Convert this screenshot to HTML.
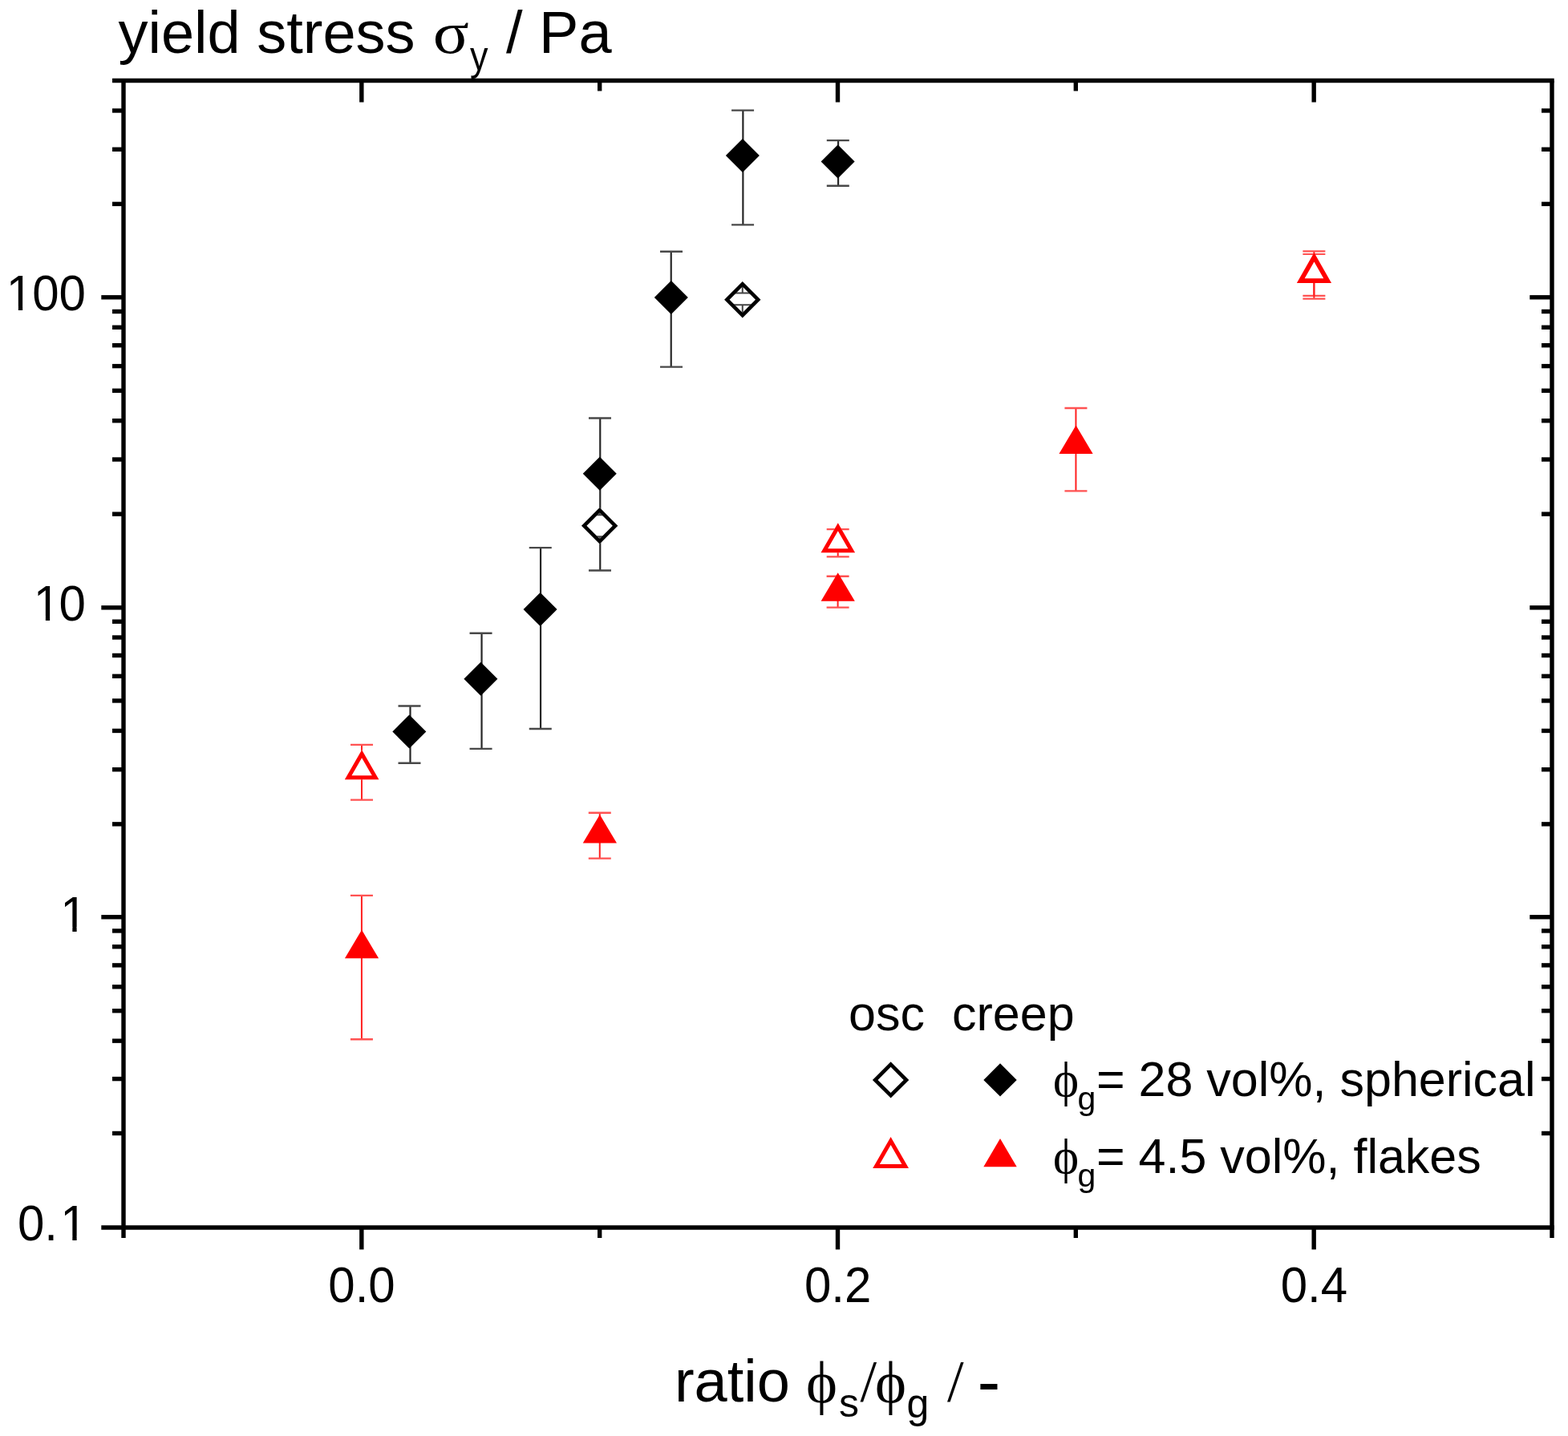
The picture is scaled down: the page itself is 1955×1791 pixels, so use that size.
<!DOCTYPE html>
<html lang="en"><head><meta charset="utf-8"><title>yield stress vs ratio</title>
<style>
html,body{margin:0;padding:0;background:#fff;}
body{width:1955px;height:1791px;overflow:hidden;}
svg{display:block;}
text{fill:#000;}
</style></head>
<body>
<svg width="1955" height="1791" viewBox="0 0 1955 1791">
<rect width="1955" height="1791" fill="#fff"/>
<path d="M511.50 880.50V951.70" fill="none" stroke="#262626" stroke-width="2.2"/>
<path d="M496.50 880.50H524.50M496.50 951.70H524.50" fill="none" stroke="#484848" stroke-width="2.4"/>
<path d="M600.55 789.80V933.90" fill="none" stroke="#262626" stroke-width="2.2"/>
<path d="M585.55 789.80H613.55M585.55 933.90H613.55" fill="none" stroke="#484848" stroke-width="2.4"/>
<path d="M674.06 683.10V909.00" fill="none" stroke="#262626" stroke-width="2.2"/>
<path d="M659.76 683.10H687.76M659.76 909.00H687.76" fill="none" stroke="#484848" stroke-width="2.4"/>
<path d="M748.27 521.50V711.50" fill="none" stroke="#262626" stroke-width="2.2"/>
<path d="M733.97 521.50H761.97M733.97 711.50H761.97" fill="none" stroke="#484848" stroke-width="2.4"/>
<path d="M836.72 313.80V457.60" fill="none" stroke="#262626" stroke-width="2.2"/>
<path d="M823.02 313.80H851.02M823.02 457.60H851.02" fill="none" stroke="#484848" stroke-width="2.4"/>
<path d="M926.37 137.60V280.40" fill="none" stroke="#262626" stroke-width="2.2"/>
<path d="M912.07 137.60H940.07M912.07 280.40H940.07" fill="none" stroke="#484848" stroke-width="2.4"/>
<path d="M1045.10 175.10V231.70" fill="none" stroke="#262626" stroke-width="2.2"/>
<path d="M1030.80 175.10H1058.80M1030.80 231.70H1058.80" fill="none" stroke="#484848" stroke-width="2.4"/>
<path d="M510.30 891.50L531.30 912.50L510.30 933.50L489.30 912.50Z" fill="#000"/>
<path d="M599.35 825.70L620.35 846.70L599.35 867.70L578.35 846.70Z" fill="#000"/>
<path d="M673.56 739.10L694.56 760.10L673.56 781.10L652.56 760.10Z" fill="#000"/>
<path d="M747.77 569.70L768.77 590.70L747.77 611.70L726.77 590.70Z" fill="#000"/>
<path d="M836.82 350.10L857.82 371.10L836.82 392.10L815.82 371.10Z" fill="#000"/>
<path d="M925.87 173.10L946.87 194.10L925.87 215.10L904.87 194.10Z" fill="#000"/>
<path d="M1044.60 180.40L1065.60 201.40L1044.60 222.40L1023.60 201.40Z" fill="#000"/>
<path d="M747.67 633.05L770.37 655.75L747.67 678.45L724.97 655.75Z" fill="#fff"/>
<clipPath id="c10"><path d="M747.67 639.15L764.27 655.75L747.67 672.35L731.07 655.75Z"/></clipPath>
<g clip-path="url(#c10)"><path d="M747.67 639.15V642.20M747.67 669.30V672.35M733.67 642.20H761.67M733.67 669.30H761.67" fill="none" stroke="#444" stroke-width="2.0"/></g>
<path fill-rule="evenodd" d="M747.67 633.05L770.37 655.75L747.67 678.45L724.97 655.75Z M747.67 639.55L763.87 655.75L747.67 671.95L731.47 655.75Z" fill="#000"/>
<path d="M925.77 351.00L948.47 373.70L925.77 396.40L903.07 373.70Z" fill="#fff"/>
<clipPath id="c16"><path d="M925.77 357.10L942.37 373.70L925.77 390.30L909.17 373.70Z"/></clipPath>
<g clip-path="url(#c16)"><path d="M925.77 357.10V365.40M925.77 380.20V390.30M911.77 365.40H939.77M911.77 380.20H939.77" fill="none" stroke="#444" stroke-width="2.0"/></g>
<path fill-rule="evenodd" d="M925.77 351.00L948.47 373.70L925.77 396.40L903.07 373.70Z M925.77 357.50L941.97 373.70L925.77 389.90L909.57 373.70Z" fill="#000"/>
<path d="M450.93 1116.85V1296.20" fill="none" stroke="#ff2020" stroke-width="2.0"/>
<path d="M436.93 1116.85H464.93M436.93 1296.20H464.93" fill="none" stroke="#ff5252" stroke-width="2.4"/>
<path d="M747.77 1013.70V1070.60" fill="none" stroke="#ff2020" stroke-width="2.0"/>
<path d="M733.77 1013.70H761.77M733.77 1070.60H761.77" fill="none" stroke="#ff5252" stroke-width="2.4"/>
<path d="M1044.60 718.80V757.60" fill="none" stroke="#ff2020" stroke-width="2.0"/>
<path d="M1030.60 718.80H1058.60M1030.60 757.60H1058.60" fill="none" stroke="#ff5252" stroke-width="2.4"/>
<path d="M1341.43 509.00V612.40" fill="none" stroke="#ff2020" stroke-width="2.0"/>
<path d="M1327.43 509.00H1355.43M1327.43 612.40H1355.43" fill="none" stroke="#ff5252" stroke-width="2.4"/>
<path d="M451.03 1159.70L472.13 1195.20L429.93 1195.20Z" fill="#ff0000"/>
<path d="M747.87 1016.00L768.97 1051.50L726.77 1051.50Z" fill="#ff0000"/>
<path d="M1044.70 714.20L1065.80 749.70L1023.60 749.70Z" fill="#ff0000"/>
<path d="M1341.53 530.50L1362.63 566.00L1320.43 566.00Z" fill="#ff0000"/>
<path d="M451.03 928.90V997.60" fill="none" stroke="#ff2020" stroke-width="2.0"/>
<path d="M437.03 928.90H465.03M437.03 997.60H465.03" fill="none" stroke="#ff5252" stroke-width="2.2"/>
<path d="M1044.70 660.20V694.30" fill="none" stroke="#ff2020" stroke-width="2.0"/>
<path d="M1030.70 660.20H1058.70M1030.70 694.30H1058.70" fill="none" stroke="#ff5252" stroke-width="2.2"/>
<path d="M1638.37 313.30V368.80" fill="none" stroke="#ff2020" stroke-width="2.0"/>
<path d="M1624.37 313.30H1652.37M1624.37 368.80H1652.37" fill="none" stroke="#ff5252" stroke-width="2.2"/>
<path d="M1638.37 317.00V372.70" fill="none" stroke="#ff2020" stroke-width="2.0"/>
<path d="M1624.37 317.00H1652.37M1624.37 372.70H1652.37" fill="none" stroke="#ff5252" stroke-width="2.2"/>
<path d="M451.13 935.20L472.43 972.20L429.83 972.20Z" fill="#fff"/>
<path fill-rule="evenodd" d="M451.13 935.20L472.43 972.20L429.83 972.20Z M451.13 945.22L463.79 967.20L438.48 967.20Z" fill="#ff0000"/>
<path d="M1044.80 652.20L1066.10 689.20L1023.50 689.20Z" fill="#fff"/>
<path fill-rule="evenodd" d="M1044.80 652.20L1066.10 689.20L1023.50 689.20Z M1044.80 662.22L1057.45 684.20L1032.15 684.20Z" fill="#ff0000"/>
<path d="M1638.47 315.40L1659.77 352.40L1617.17 352.40Z" fill="#fff"/>
<path fill-rule="evenodd" d="M1638.47 314.90L1660.07 353.00L1616.87 353.00Z M1638.47 326.46L1650.28 347.30L1626.65 347.30Z" fill="#ff0000"/>
<line x1="140.00" y1="100.50" x2="1937.70" y2="100.50" stroke="#000" stroke-width="5.4"/>
<line x1="126.30" y1="1531.00" x2="1937.70" y2="1531.00" stroke="#000" stroke-width="5.4"/>
<line x1="154.00" y1="100.50" x2="154.00" y2="1544.00" stroke="#000" stroke-width="5.4"/>
<line x1="1935.00" y1="100.50" x2="1935.00" y2="1544.00" stroke="#000" stroke-width="5.4"/>
<line x1="140.00" y1="1413.48" x2="154.00" y2="1413.48" stroke="#000" stroke-width="5.4"/>
<line x1="1922.00" y1="1413.48" x2="1935.00" y2="1413.48" stroke="#000" stroke-width="5.4"/>
<line x1="140.00" y1="1345.58" x2="154.00" y2="1345.58" stroke="#000" stroke-width="5.4"/>
<line x1="1922.00" y1="1345.58" x2="1935.00" y2="1345.58" stroke="#000" stroke-width="5.4"/>
<line x1="140.00" y1="1298.17" x2="154.00" y2="1298.17" stroke="#000" stroke-width="5.4"/>
<line x1="1922.00" y1="1298.17" x2="1935.00" y2="1298.17" stroke="#000" stroke-width="5.4"/>
<line x1="140.00" y1="1260.69" x2="154.00" y2="1260.69" stroke="#000" stroke-width="5.4"/>
<line x1="1922.00" y1="1260.69" x2="1935.00" y2="1260.69" stroke="#000" stroke-width="5.4"/>
<line x1="140.00" y1="1230.77" x2="154.00" y2="1230.77" stroke="#000" stroke-width="5.4"/>
<line x1="1922.00" y1="1230.77" x2="1935.00" y2="1230.77" stroke="#000" stroke-width="5.4"/>
<line x1="140.00" y1="1203.88" x2="154.00" y2="1203.88" stroke="#000" stroke-width="5.4"/>
<line x1="1922.00" y1="1203.88" x2="1935.00" y2="1203.88" stroke="#000" stroke-width="5.4"/>
<line x1="140.00" y1="1180.75" x2="154.00" y2="1180.75" stroke="#000" stroke-width="5.4"/>
<line x1="1922.00" y1="1180.75" x2="1935.00" y2="1180.75" stroke="#000" stroke-width="5.4"/>
<line x1="140.00" y1="1160.97" x2="154.00" y2="1160.97" stroke="#000" stroke-width="5.4"/>
<line x1="1922.00" y1="1160.97" x2="1935.00" y2="1160.97" stroke="#000" stroke-width="5.4"/>
<line x1="126.30" y1="1143.77" x2="154.00" y2="1143.77" stroke="#000" stroke-width="5.4"/>
<line x1="1907.30" y1="1143.77" x2="1935.00" y2="1143.77" stroke="#000" stroke-width="5.4"/>
<line x1="140.00" y1="1027.85" x2="154.00" y2="1027.85" stroke="#000" stroke-width="5.4"/>
<line x1="1922.00" y1="1027.85" x2="1935.00" y2="1027.85" stroke="#000" stroke-width="5.4"/>
<line x1="140.00" y1="959.75" x2="154.00" y2="959.75" stroke="#000" stroke-width="5.4"/>
<line x1="1922.00" y1="959.75" x2="1935.00" y2="959.75" stroke="#000" stroke-width="5.4"/>
<line x1="140.00" y1="911.44" x2="154.00" y2="911.44" stroke="#000" stroke-width="5.4"/>
<line x1="1922.00" y1="911.44" x2="1935.00" y2="911.44" stroke="#000" stroke-width="5.4"/>
<line x1="140.00" y1="873.96" x2="154.00" y2="873.96" stroke="#000" stroke-width="5.4"/>
<line x1="1922.00" y1="873.96" x2="1935.00" y2="873.96" stroke="#000" stroke-width="5.4"/>
<line x1="140.00" y1="843.34" x2="154.00" y2="843.34" stroke="#000" stroke-width="5.4"/>
<line x1="1922.00" y1="843.34" x2="1935.00" y2="843.34" stroke="#000" stroke-width="5.4"/>
<line x1="140.00" y1="817.45" x2="154.00" y2="817.45" stroke="#000" stroke-width="5.4"/>
<line x1="1922.00" y1="817.45" x2="1935.00" y2="817.45" stroke="#000" stroke-width="5.4"/>
<line x1="140.00" y1="795.02" x2="154.00" y2="795.02" stroke="#000" stroke-width="5.4"/>
<line x1="1922.00" y1="795.02" x2="1935.00" y2="795.02" stroke="#000" stroke-width="5.4"/>
<line x1="140.00" y1="775.24" x2="154.00" y2="775.24" stroke="#000" stroke-width="5.4"/>
<line x1="1922.00" y1="775.24" x2="1935.00" y2="775.24" stroke="#000" stroke-width="5.4"/>
<line x1="126.30" y1="757.84" x2="154.00" y2="757.84" stroke="#000" stroke-width="5.4"/>
<line x1="1907.30" y1="757.84" x2="1935.00" y2="757.84" stroke="#000" stroke-width="5.4"/>
<line x1="140.00" y1="641.12" x2="154.00" y2="641.12" stroke="#000" stroke-width="5.4"/>
<line x1="1922.00" y1="641.12" x2="1935.00" y2="641.12" stroke="#000" stroke-width="5.4"/>
<line x1="140.00" y1="573.02" x2="154.00" y2="573.02" stroke="#000" stroke-width="5.4"/>
<line x1="1922.00" y1="573.02" x2="1935.00" y2="573.02" stroke="#000" stroke-width="5.4"/>
<line x1="140.00" y1="524.71" x2="154.00" y2="524.71" stroke="#000" stroke-width="5.4"/>
<line x1="1922.00" y1="524.71" x2="1935.00" y2="524.71" stroke="#000" stroke-width="5.4"/>
<line x1="140.00" y1="487.23" x2="154.00" y2="487.23" stroke="#000" stroke-width="5.4"/>
<line x1="1922.00" y1="487.23" x2="1935.00" y2="487.23" stroke="#000" stroke-width="5.4"/>
<line x1="140.00" y1="456.61" x2="154.00" y2="456.61" stroke="#000" stroke-width="5.4"/>
<line x1="1922.00" y1="456.61" x2="1935.00" y2="456.61" stroke="#000" stroke-width="5.4"/>
<line x1="140.00" y1="430.72" x2="154.00" y2="430.72" stroke="#000" stroke-width="5.4"/>
<line x1="1922.00" y1="430.72" x2="1935.00" y2="430.72" stroke="#000" stroke-width="5.4"/>
<line x1="140.00" y1="408.29" x2="154.00" y2="408.29" stroke="#000" stroke-width="5.4"/>
<line x1="1922.00" y1="408.29" x2="1935.00" y2="408.29" stroke="#000" stroke-width="5.4"/>
<line x1="140.00" y1="388.51" x2="154.00" y2="388.51" stroke="#000" stroke-width="5.4"/>
<line x1="1922.00" y1="388.51" x2="1935.00" y2="388.51" stroke="#000" stroke-width="5.4"/>
<line x1="126.30" y1="370.81" x2="154.00" y2="370.81" stroke="#000" stroke-width="5.4"/>
<line x1="1907.30" y1="370.81" x2="1935.00" y2="370.81" stroke="#000" stroke-width="5.4"/>
<line x1="140.00" y1="254.40" x2="154.00" y2="254.40" stroke="#000" stroke-width="5.4"/>
<line x1="1922.00" y1="254.40" x2="1935.00" y2="254.40" stroke="#000" stroke-width="5.4"/>
<line x1="140.00" y1="186.30" x2="154.00" y2="186.30" stroke="#000" stroke-width="5.4"/>
<line x1="1922.00" y1="186.30" x2="1935.00" y2="186.30" stroke="#000" stroke-width="5.4"/>
<line x1="140.00" y1="137.98" x2="154.00" y2="137.98" stroke="#000" stroke-width="5.4"/>
<line x1="1922.00" y1="137.98" x2="1935.00" y2="137.98" stroke="#000" stroke-width="5.4"/>
<line x1="450.83" y1="100.50" x2="450.83" y2="127.50" stroke="#000" stroke-width="5.4"/>
<line x1="450.83" y1="1531.00" x2="450.83" y2="1558.40" stroke="#000" stroke-width="5.4"/>
<line x1="747.67" y1="100.50" x2="747.67" y2="113.50" stroke="#000" stroke-width="5.4"/>
<line x1="747.67" y1="1531.00" x2="747.67" y2="1544.00" stroke="#000" stroke-width="5.4"/>
<line x1="1044.50" y1="100.50" x2="1044.50" y2="127.50" stroke="#000" stroke-width="5.4"/>
<line x1="1044.50" y1="1531.00" x2="1044.50" y2="1558.40" stroke="#000" stroke-width="5.4"/>
<line x1="1341.33" y1="100.50" x2="1341.33" y2="113.50" stroke="#000" stroke-width="5.4"/>
<line x1="1341.33" y1="1531.00" x2="1341.33" y2="1544.00" stroke="#000" stroke-width="5.4"/>
<line x1="1638.17" y1="100.50" x2="1638.17" y2="127.50" stroke="#000" stroke-width="5.4"/>
<line x1="1638.17" y1="1531.00" x2="1638.17" y2="1558.40" stroke="#000" stroke-width="5.4"/>
<text transform="translate(7.19,387.41) scale(1,1.05)" dx="0.60 -1.00 0.00" font-size="60.0" font-family="'Liberation Sans','Arial',sans-serif">100</text>
<rect x="10.72" y="381.91" width="12.16" height="6.51" fill="#fff"/>
<rect x="28.18" y="381.91" width="12.13" height="6.51" fill="#fff"/>
<text transform="translate(40.56,774.14) scale(1,1.05)" dx="1.20 -1.70" font-size="60.0" font-family="'Liberation Sans','Arial',sans-serif">10</text>
<rect x="44.69" y="768.63" width="12.16" height="6.51" fill="#fff"/>
<rect x="62.15" y="768.63" width="12.13" height="6.51" fill="#fff"/>
<text transform="translate(73.93,1161.87) scale(1,1.05)" dx="1.30" font-size="60.0" font-family="'Liberation Sans','Arial',sans-serif">1</text>
<rect x="78.16" y="1156.36" width="12.16" height="6.51" fill="#fff"/>
<rect x="95.62" y="1156.36" width="12.13" height="6.51" fill="#fff"/>
<text transform="translate(23.89,1547.30) scale(1,1.05)" dx="-2.00 0.00 3.30" font-size="60.0" font-family="'Liberation Sans','Arial',sans-serif">0.1</text>
<rect x="78.16" y="1541.79" width="12.16" height="6.51" fill="#fff"/>
<rect x="95.62" y="1541.79" width="12.13" height="6.51" fill="#fff"/>
<text transform="translate(451.03,1624.00) scale(1.0,1.04)" font-size="60.0" font-family="'Liberation Sans','Arial',sans-serif" text-anchor="middle">0.0</text>
<text transform="translate(1044.70,1624.00) scale(1.0,1.04)" font-size="60.0" font-family="'Liberation Sans','Arial',sans-serif" text-anchor="middle">0.2</text>
<text transform="translate(1638.37,1624.00) scale(1.0,1.04)" font-size="60.0" font-family="'Liberation Sans','Arial',sans-serif" text-anchor="middle">0.4</text>
<text x="147.50" y="66.30" font-size="74.0" font-family="'Liberation Sans','Arial',sans-serif" text-anchor="start">yield stress</text>
<text transform="translate(539.70,66.30) scale(1.13,1.0)" font-size="74.0" font-family="'Liberation Serif','Times New Roman',serif" text-anchor="start">σ</text>
<text transform="translate(586.00,87.20) scale(0.9,1.05)" font-size="50" font-family="'Liberation Sans','Arial',sans-serif" text-anchor="start">y</text>
<text x="631.00" y="66.30" font-size="74.0" font-family="'Liberation Sans','Arial',sans-serif" text-anchor="start">/ Pa</text>
<text x="840.90" y="1748.40" font-size="74.0" font-family="'Liberation Sans','Arial',sans-serif" text-anchor="start">ratio</text>
<text x="1005.00" y="1748.80" font-size="74.0" font-family="'Liberation Serif','Times New Roman',serif" text-anchor="start">ϕ</text>
<text x="1046.00" y="1767.00" font-size="50" font-family="'Liberation Sans','Arial',sans-serif" text-anchor="start">s</text>
<text x="1072.50" y="1747.50" font-size="74.0" font-family="'Liberation Serif','Times New Roman',serif" text-anchor="start">/</text>
<text x="1091.00" y="1748.80" font-size="74.0" font-family="'Liberation Serif','Times New Roman',serif" text-anchor="start">ϕ</text>
<text transform="translate(1130.50,1768.00) scale(1.0,1.05)" font-size="50" font-family="'Liberation Sans','Arial',sans-serif" text-anchor="start">g</text>
<text x="1181.00" y="1747.50" font-size="74.0" font-family="'Liberation Serif','Times New Roman',serif" text-anchor="start">/</text>
<text transform="translate(1218.60,1752.60) scale(1.17,1.2)" font-size="74.0" font-family="'Liberation Sans','Arial',sans-serif" text-anchor="start">-</text>
<text x="1058.00" y="1284.60" font-size="61" font-family="'Liberation Sans','Arial',sans-serif" text-anchor="start">osc</text>
<text x="1187.00" y="1284.60" font-size="61" font-family="'Liberation Sans','Arial',sans-serif" text-anchor="start">creep</text>
<text x="1313.00" y="1366.50" font-size="61" font-family="'Liberation Serif','Times New Roman',serif" text-anchor="start">ϕ</text>
<text x="1343.50" y="1383.50" font-size="41" font-family="'Liberation Sans','Arial',sans-serif" text-anchor="start">g</text>
<text x="1367.00" y="1366.50" font-size="61" font-family="'Liberation Sans','Arial',sans-serif" text-anchor="start">= 28 vol%, spherical</text>
<text x="1313.00" y="1462.50" font-size="61" font-family="'Liberation Serif','Times New Roman',serif" text-anchor="start">ϕ</text>
<text x="1343.50" y="1479.50" font-size="41" font-family="'Liberation Sans','Arial',sans-serif" text-anchor="start">g</text>
<text x="1367.00" y="1462.50" font-size="61" font-family="'Liberation Sans','Arial',sans-serif" text-anchor="start">= 4.5 vol%, flakes</text>
<path fill-rule="evenodd" d="M1110.60 1324.20L1133.30 1346.90L1110.60 1369.60L1087.90 1346.90Z M1110.60 1330.80L1126.70 1346.90L1110.60 1363.00L1094.50 1346.90Z" fill="#000"/>
<path d="M1247.00 1326.20L1267.70 1346.90L1247.00 1367.60L1226.30 1346.90Z" fill="#000"/>
<path fill-rule="evenodd" d="M1110.60 1418.00L1133.00 1457.00L1088.20 1457.00Z M1110.60 1428.04L1124.36 1452.00L1096.84 1452.00Z" fill="#ff0000"/>
<path d="M1247.00 1420.00L1267.70 1455.20L1226.30 1455.20Z" fill="#ff0000"/>
</svg>
</body></html>
